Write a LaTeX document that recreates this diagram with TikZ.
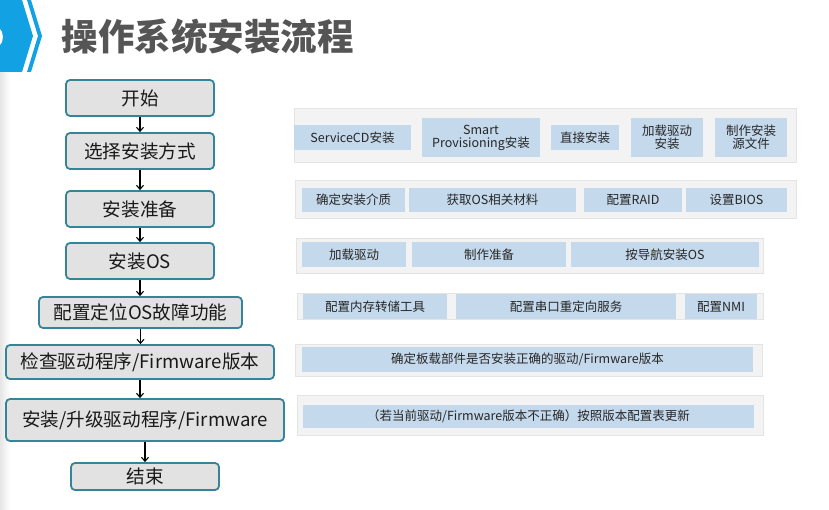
\documentclass[tikz,border=0pt]{standalone}
\usepackage{fontspec}
\setmainfont{Noto Sans CJK SC}
\usetikzlibrary{arrows.meta}
\definecolor{azzurro}{HTML}{12A2E4}
\definecolor{bordo}{HTML}{35849A}
\definecolor{grigiobox}{HTML}{E2E2E2}
\definecolor{grigiopan}{HTML}{F3F3F3}
\definecolor{lineapan}{HTML}{E4E4E4}
\definecolor{chipblu}{HTML}{C5D9EC}
\definecolor{titolo}{HTML}{555555}
\begin{document}
\begin{tikzpicture}[x=1pt, y=-1pt,
        passo/.style={draw=bordo, line width=1.8pt, fill=grigiobox, rounded corners=4pt, inner sep=0pt, text=black!90, font=\fontsize{18.6}{20}\selectfont},
        pannello/.style={draw=lineapan, line width=0.8pt, fill=grigiopan, inner sep=0pt},
        chip/.style={fill=chipblu, inner sep=0pt, align=center, text=black!85, font=\fontsize{12.5}{14}\selectfont},
        freccia/.style={->, >={Straight Barb[length=4pt, width=7pt]}, line width=1.1pt}]
        \useasboundingbox (0,0) rectangle (829,510);
        
        % Intestazione
        \shade[left color=black!10, right color=white] (0,68) rectangle (10,510);
        \fill[azzurro] (0,0) -- (22,0) -- (33,36) -- (22,72) -- (0,72) -- cycle;
        \fill[white] (-10,37) circle (13);
        \fill[azzurro] (27,0) -- (31,0) -- (42,36) -- (31,72) -- (27,72) -- (38,36) -- cycle;
        \node[anchor=west, text=titolo, font=\fontsize{36.5}{40}\selectfont\bfseries] (titolo) at (58,37) {操作系统安装流程};
        
        % Passi del flusso
        \node[passo, minimum width=148, minimum height=36] (s1) at (140,98) {开始};
        \node[passo, minimum width=148, minimum height=36] (s2) at (140,151) {选择安装方式};
        \node[passo, minimum width=148, minimum height=36] (s3) at (140,209) {安装准备};
        \node[passo, minimum width=148, minimum height=36] (s4) at (140,261) {安装OS};
        \node[passo, minimum width=203, minimum height=31] (s5) at (140.5,312.5) {配置定位OS故障功能};
        \node[passo, minimum width=268, minimum height=34] (s6) at (140,362) {检查驱动程序/Firmware版本};
        \node[passo, minimum width=278, minimum height=42] (s7) at (145,420) {安装/升级驱动程序/Firmware};
        \node[passo, minimum width=148, minimum height=27] (s8) at (145,476.5) {结束};
        
        % Frecce
        \draw[freccia] (s1) -- (s2);
        \draw[freccia] (s2) -- (s3);
        \draw[freccia] (s3) -- (s4);
        \draw[freccia] (s4.south) -- (s4.south |- s5.north);
        \draw[freccia] (s5.south) -- (s5.south |- s6.north);
        \draw[freccia] (s6.south) -- (s6.south |- s7.north);
        \draw[freccia] (s7) -- (s8);
        
        % Pannelli
        \node[pannello, minimum width=502, minimum height=54] (p1) at (545,135) {};
        \node[pannello, minimum width=501, minimum height=38] (p2) at (545.5,199) {};
        \node[pannello, minimum width=467, minimum height=35] (p3) at (529.5,255.5) {};
        \node[pannello, minimum width=466, minimum height=26] (p4) at (530,306) {};
        \node[pannello, minimum width=467, minimum height=32] (p5) at (528.5,360) {};
        \node[pannello, minimum width=466, minimum height=40] (p6) at (530,415) {};
        
        % Voci
        \node[chip, minimum width=117, minimum height=25] (c11) at (352.5,137.5) {ServiceCD安装};
        \node[chip, minimum width=118, minimum height=39] (c12) at (481,137.5) {Smart\\[-1pt]Provisioning安装};
        \node[chip, minimum width=68, minimum height=25] (c13) at (585,137.5) {直接安装};
        \node[chip, minimum width=72, minimum height=39] (c14) at (667,137.5) {加载驱动\\[-1pt]安装};
        \node[chip, minimum width=72, minimum height=39] (c15) at (751,137.5) {制作安装\\[-1pt]源文件};
        
        \node[chip, minimum width=103, minimum height=24] (c21) at (353.5,200) {确定安装介质};
        \node[chip, minimum width=167, minimum height=24] (c22) at (492.5,200) {获取OS相关材料};
        \node[chip, minimum width=98, minimum height=24] (c23) at (633,200) {配置RAID};
        \node[chip, minimum width=101, minimum height=24] (c24) at (736.5,200) {设置BIOS};
        
        \node[chip, minimum width=104, minimum height=25] (c31) at (354,254.5) {加载驱动};
        \node[chip, minimum width=154, minimum height=25] (c32) at (489,254.5) {制作准备};
        \node[chip, minimum width=188, minimum height=25] (c33) at (665,254.5) {按导航安装OS};
        
        \node[chip, minimum width=144, minimum height=25] (c41) at (375,306.5) {配置内存转储工具};
        \node[chip, minimum width=220, minimum height=25] (c42) at (566,306.5) {配置串口重定向服务};
        \node[chip, minimum width=72, minimum height=25] (c43) at (721,306.5) {配置NMI};
        
        \node[chip, minimum width=451, minimum height=25] (c51) at (527.5,359.5) {确定板载部件是否安装正确的驱动/Firmware版本};
        
        \node[chip, minimum width=451, minimum height=23] (c61) at (528.5,416.5) {（若当前驱动/Firmware版本不正确）按照版本配置表更新};
        
    \end{tikzpicture}
\end{document}
